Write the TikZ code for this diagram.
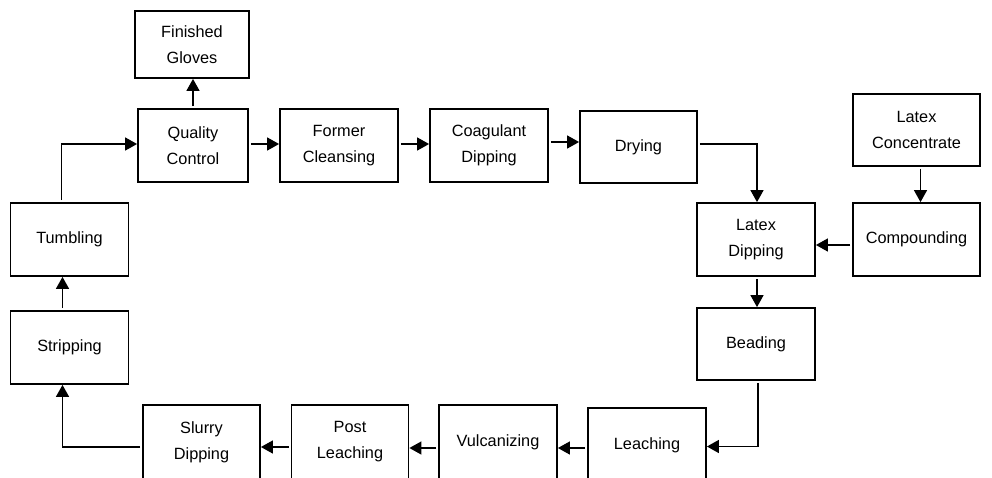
\documentclass[tikz,border=0pt]{standalone}
\usepackage{fontspec}
\setmainfont{Liberation Sans}
\usetikzlibrary{arrows.meta}
\begin{document}
\begin{tikzpicture}[x=1pt,y=-1pt,
  box/.style={draw,line width=1.8pt,inner sep=0pt,align=center,
    font=\fontsize{16.3}{26}\selectfont},
  arr/.style={line width=1.4pt,-{Triangle[width=13pt,length=12pt]},shorten <=2pt}]
\useasboundingbox (0,0) rectangle (992,477);
\clip (0,0) rectangle (992,477);
\node[box,minimum width=114pt,minimum height=67pt] (fg) at (192,44.5) {Finished\\Gloves};
\node[box,minimum width=110pt,minimum height=73pt] (qc) at (193,145.5) {Quality\\Control};
\node[box,minimum width=118pt,minimum height=73pt] (fc) at (339,145.5) {Former\\Cleansing};
\node[box,minimum width=118pt,minimum height=73pt] (cd) at (489,145.5) {Coagulant\\Dipping};
\node[box,minimum width=117pt,minimum height=72pt] (dr) at (638.5,147) {Drying};
\node[box,minimum width=127pt,minimum height=72pt] (lc) at (916.5,130) {Latex\\Concentrate};
\node[box,minimum width=118pt,minimum height=73pt] (ld) at (756,239.5) {Latex\\Dipping};
\node[box,minimum width=127pt,minimum height=73pt] (co) at (916.5,239.5) {Compounding};
\node[box,minimum width=118pt,minimum height=72pt] (be) at (756,344) {Beading};
\node[box,minimum width=118pt,minimum height=74pt] (le) at (647,445) {Leaching};
\node[box,minimum width=118pt,minimum height=74pt] (vu) at (498,442) {Vulcanizing};
\node[box,minimum width=117pt,minimum height=74pt] (pl) at (350,442) {Post\\Leaching};
\node[box,minimum width=117pt,minimum height=74pt] (sd) at (201.5,442) {Slurry\\Dipping};
\node[box,minimum width=118pt,minimum height=73pt] (st) at (69.5,347.5) {Stripping};
\node[box,minimum width=118pt,minimum height=73pt] (tu) at (69.5,239.5) {Tumbling};

\draw[arr] (qc.north) -- (qc.north |- fg.south);
\draw[arr] ([xshift=-8pt]tu.north) |- ([yshift=1.5pt]qc.west);
\draw[arr] ([yshift=1.5pt]qc.east) -- ([yshift=1.5pt]fc.west);
\draw[arr] ([yshift=1.5pt]fc.east) -- ([yshift=1.5pt]cd.west);
\draw[arr] ([yshift=3.5pt]cd.east) -- ([yshift=5pt]dr.west);
\draw[arr] ([yshift=3pt]dr.east) -| ([xshift=1pt]ld.north);
\draw[arr] ([xshift=4pt]lc.south) -- ([xshift=4pt]co.north);
\draw[arr] ([yshift=-5.5pt]co.west) -- ([yshift=-5.5pt]ld.east);
\draw[arr] ([xshift=1pt]ld.south) -- ([xshift=1pt]be.north);
\draw[arr] ([xshift=2pt]be.south) |- ([yshift=-1.5pt]le.east);
\draw[arr] ([yshift=-3pt]le.west) -- ([yshift=-6pt]vu.east);
\draw[arr] ([yshift=-6pt]vu.west) -- ([yshift=-6pt]pl.east);
\draw[arr] ([yshift=-5pt]pl.west) -- ([yshift=-5pt]sd.east);
\draw[arr] ([yshift=-5pt]sd.west) -| ([xshift=-7pt]st.south);
\draw[arr] ([xshift=-7pt]st.north) -- ([xshift=-7pt]tu.south);
\end{tikzpicture}
\end{document}
